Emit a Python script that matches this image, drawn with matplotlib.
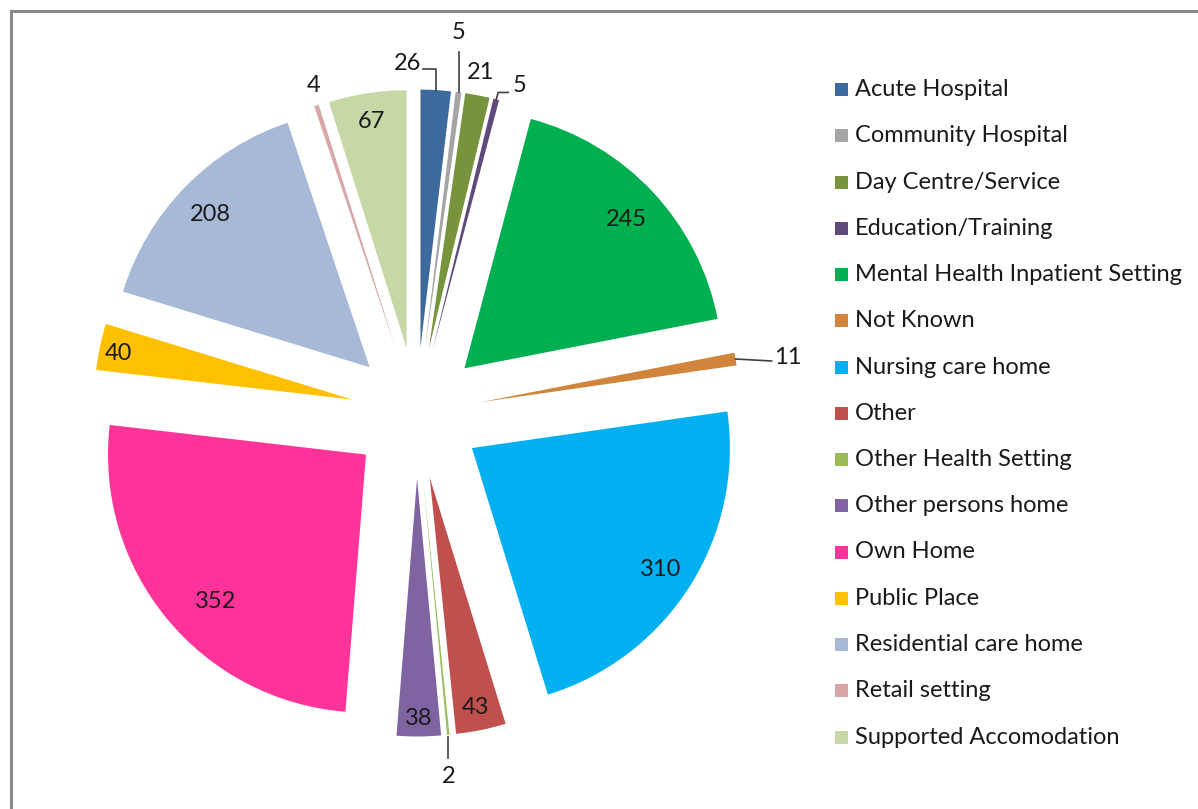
import numpy as np
import matplotlib
matplotlib.use("Agg")
import matplotlib.pyplot as plt
from matplotlib.patches import Rectangle

categories = ["Acute Hospital", "Community Hospital", "Day Centre/Service",
              "Education/Training", "Mental Health Inpatient Setting", "Not Known",
              "Nursing care home", "Other", "Other Health Setting",
              "Other persons home", "Own Home", "Public Place",
              "Residential care home", "Retail setting", "Supported Accomodation"]
values = [26, 5, 21, 5, 245, 11, 310, 43, 2, 38, 352, 40, 208, 4, 67]
colors = ["#3D6A9C", "#A5A5A5", "#77933C", "#604A7B", "#00B050", "#D0843C",
          "#00B0F0", "#C0504D", "#9BBB59", "#8064A2", "#FF3399", "#FFC000",
          "#A8B9D8", "#D9A6A6", "#C5D8A6"]

W, H = 1198, 809
FONT = "Lato"
FS = 17
plt.rcParams["font.family"] = [FONT, "DejaVu Sans"]

fig = plt.figure(figsize=(W / 100, H / 100), dpi=100)
ax = fig.add_axes([0, 0, 1, 1])

R = 258
cx, cy = 416.6, H - 413
wedges, _ = ax.pie(values, colors=colors, startangle=90, counterclock=False,
                   radius=R, center=(cx, cy), explode=[65.5] * len(values),
                   wedgeprops=dict(linewidth=0), frame=True)
ax.set_xlim(0, W)
ax.set_ylim(0, H)
ax.set_aspect("equal", adjustable="box")
ax.axis("off")

# inside labels: (radial fraction, angular shift in degrees)
inside = {4: (0.86, 0), 6: (0.865, 0), 12: (0.86, 0), 10: (0.81, 4.4),
          14: (0.90, 0), 11: (0.925, 0), 7: (0.90, 0), 9: (0.92, 0)}
# outside labels: text offset from outer-mid point, alignment, leader path
outside = {
    0: dict(text=(-15, 27), ha="right", leader=[(0, 0), (0, 21), (-13, 21)]),
    1: dict(text=(0, 60), ha="center", leader=[(0, 0), (0, 40)]),
    2: dict(text=(3.5, 23), ha="center", leader=None),
    3: dict(text=(16, 14), ha="left", leader=[(0, 0), (2, 7), (12, 7)]),
    5: dict(text=(38, 2), ha="left", leader=[(0, 0), (36, -2)]),
    8: dict(text=(0, -42), ha="center", leader=[(0, -2), (0, -23)]),
    13: dict(text=(-3, 20), ha="center", leader=None),
}

for i, w in enumerate(wedges):
    tm = np.deg2rad((w.theta1 + w.theta2) / 2)
    ux, uy = np.cos(tm), np.sin(tm)
    ex, ey = w.center
    if i in inside:
        f, dt = inside[i]
        t2 = tm + np.deg2rad(dt)
        ax.text(ex + f * R * np.cos(t2), ey + f * R * np.sin(t2) - 2.5, str(values[i]),
                ha="center", va="center", fontsize=FS, color="#1a1a1a")
    else:
        o = outside[i]
        px, py = ex + R * ux, ey + R * uy
        if o["leader"]:
            xs = [px + a for a, b in o["leader"]]
            ys = [py + b for a, b in o["leader"]]
            ax.plot(xs, ys, color="#404040", lw=1.2, clip_on=False)
        ax.text(px + o["text"][0], py + o["text"][1], str(values[i]), ha=o["ha"],
                va="center", fontsize=FS, color="#1a1a1a")

# legend
y0, step = 89.5, 46.25
for i, (c, lab) in enumerate(zip(colors, categories)):
    yc = H - (y0 + i * step)
    ax.add_patch(Rectangle((835, yc - 6.5), 13, 13, facecolor=c, edgecolor="none"))
    ax.text(855, yc, lab, ha="left", va="center", fontsize=FS, color="#1a1a1a")

# border
ax.plot([11, 11, W], [0, H - 10.5, H - 10.5], color="#8a8a8a", lw=2.2,
        clip_on=False, solid_joinstyle="miter")

fig.savefig("out.png", dpi=100)
